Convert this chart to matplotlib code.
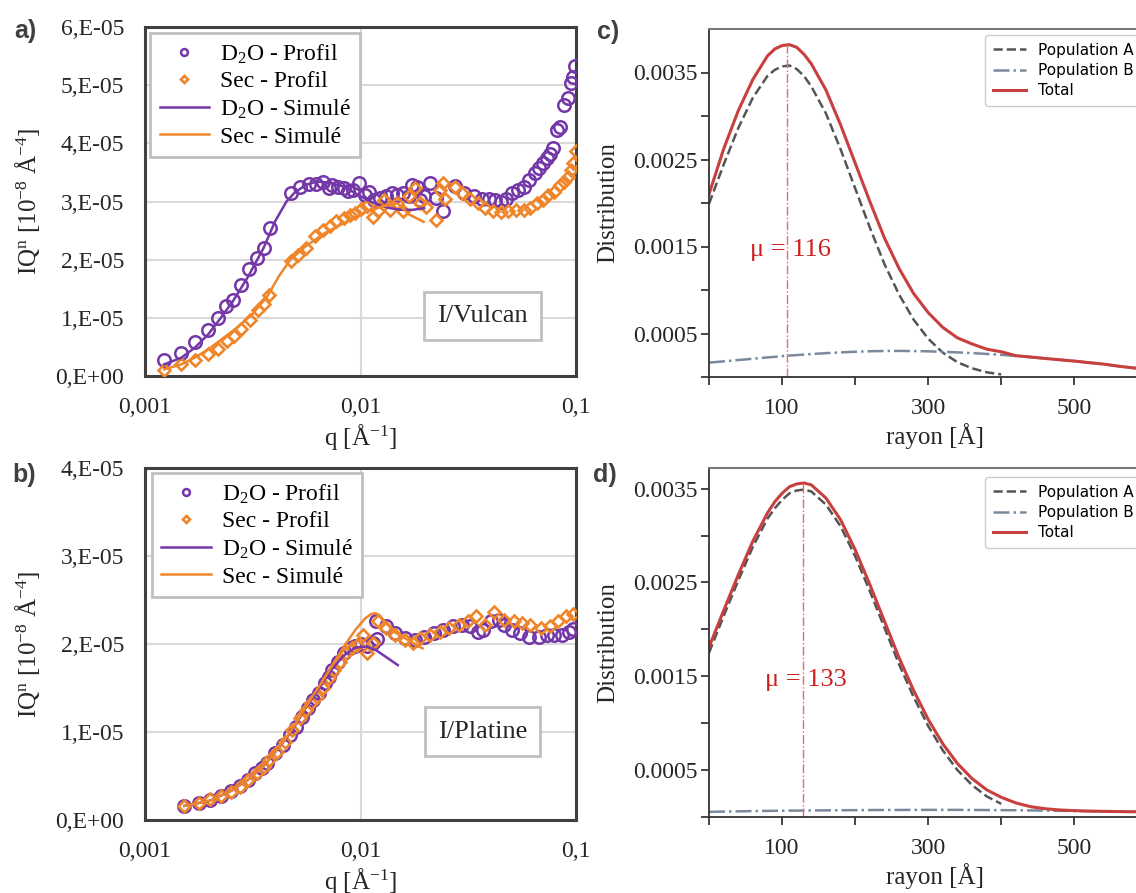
import numpy as np
import matplotlib
matplotlib.use("Agg")
import matplotlib.pyplot as plt
from matplotlib.ticker import NullLocator

plt.rcParams["font.family"] = ["Liberation Serif", "DejaVu Serif"]
plt.rcParams["mathtext.fontset"] = "custom"
plt.rcParams["mathtext.rm"] = "Liberation Serif"
plt.rcParams["mathtext.it"] = "Liberation Serif:italic"
plt.rcParams["mathtext.bf"] = "Liberation Serif:bold"

# ============================================
# 1. SAXS profiles, panel a (I/Vulcan), values in 1e-5 units
# ============================================
a_d2o_q = [0.001227, 0.001474, 0.001701, 0.001963, 0.002191, 0.002388, 0.002559, 0.002778,
           0.003040, 0.003298, 0.003549, 0.003804, 0.004763, 0.005233, 0.005747, 0.006237,
           0.006687, 0.007108, 0.007405, 0.007873, 0.008372, 0.008793, 0.009273, 0.009858,
           0.01048, 0.01092, 0.01161, 0.01234, 0.01312, 0.01395, 0.01484, 0.01577, 0.01677,
           0.01733, 0.01820, 0.01895, 0.01975, 0.02100, 0.02232, 0.02423, 0.02739, 0.03033,
           0.03360, 0.03645, 0.03956, 0.04206, 0.04471, 0.04753, 0.05053, 0.05374, 0.05714,
           0.06074, 0.06457, 0.06727, 0.07008, 0.07301, 0.07603, 0.07856, 0.08185, 0.08424,
           0.08775, 0.09142, 0.09522, 0.09718, 0.09918]
a_d2o_i = [0.269, 0.400, 0.589, 0.789, 1.000, 1.200, 1.314, 1.571, 1.840, 2.029, 2.200, 2.543,
           3.154, 3.246, 3.303, 3.303, 3.343, 3.229, 3.286, 3.257, 3.229, 3.189, 3.200, 3.314,
           3.114, 3.171, 3.029, 3.057, 3.097, 3.143, 3.114, 3.143, 3.086, 3.286, 3.257, 3.029,
           3.086, 3.326, 3.057, 2.829, 3.269, 3.154, 3.086, 3.040, 3.040, 3.029, 3.000, 3.040,
           3.154, 3.200, 3.257, 3.371, 3.486, 3.571, 3.657, 3.743, 3.817, 3.926, 4.229, 4.286,
           4.657, 4.771, 5.029, 5.143, 5.331]

a_sec_q = [0.001227, 0.001474, 0.001701, 0.001963, 0.002191, 0.002407, 0.002580, 0.002801,
           0.003076, 0.003339, 0.003549, 0.003773, 0.004763, 0.005127, 0.005563, 0.006163,
           0.006687, 0.007255, 0.007714, 0.008372, 0.008901, 0.009462, 0.01006, 0.01070,
           0.01137, 0.01209, 0.01286, 0.01367, 0.01484, 0.01577, 0.01677, 0.01783, 0.01895,
           0.02015, 0.02232, 0.02326, 0.02423, 0.02473, 0.02739, 0.02971, 0.03226, 0.03499,
           0.03797, 0.04120, 0.04471, 0.04851, 0.05264, 0.05714, 0.06138, 0.06592, 0.07008,
           0.07451, 0.07921, 0.08424, 0.08775, 0.09142, 0.09522, 0.09718, 0.1000]
a_sec_i = [0.103, 0.200, 0.269, 0.371, 0.457, 0.600, 0.686, 0.800, 0.971, 1.143, 1.246, 1.400,
           1.971, 2.086, 2.200, 2.400, 2.514, 2.571, 2.657, 2.714, 2.771, 2.800, 2.869, 2.926,
           2.731, 2.829, 3.029, 2.846, 2.971, 2.829, 3.086, 3.229, 2.971, 2.914, 2.686, 3.200,
           3.326, 3.040, 3.257, 3.143, 3.040, 2.971, 2.886, 2.829, 2.811, 2.829, 2.846, 2.846,
           2.886, 2.971, 3.029, 3.114, 3.171, 3.286, 3.343, 3.429, 3.543, 3.657, 3.869]

a_d2o_sim_q = [0.001227, 0.001474, 0.001701, 0.001963, 0.002218, 0.002559, 0.003015, 0.003549,
               0.004012, 0.004535, 0.004921, 0.005563, 0.006288, 0.007108, 0.008372, 0.009462,
               0.01070, 0.01209, 0.01367, 0.01545, 0.01747, 0.01975]
a_d2o_sim_i = [0.200, 0.314, 0.486, 0.714, 0.971, 1.286, 1.714, 2.200, 2.657, 3.000, 3.143,
               3.286, 3.343, 3.326, 3.257, 3.143, 3.029, 2.943, 2.886, 2.857, 2.857, 2.886]

a_sec_sim_q = [0.001227, 0.001474, 0.001701, 0.001963, 0.002264, 0.002667, 0.003141, 0.003698,
               0.004178, 0.004725, 0.005563, 0.006825, 0.008372, 0.01027, 0.01260, 0.01484,
               0.01677, 0.01963]
a_sec_sim_i = [0.114, 0.200, 0.314, 0.457, 0.629, 0.829, 1.057, 1.371, 1.714, 2.000, 2.229,
               2.457, 2.629, 2.800, 2.914, 2.971, 2.780, 2.650]

# ============================================
# 2. SAXS profiles, panel b (I/Platine), values in 1e-5 units
# ============================================
b_d2o_q = [0.001523, 0.001772, 0.002003, 0.002264, 0.002507, 0.002755, 0.002990, 0.003244,
           0.003477, 0.003698, 0.004012, 0.004354, 0.004725, 0.005023, 0.005340, 0.005677,
           0.006036, 0.006417, 0.006825, 0.007108, 0.007405, 0.007873, 0.008372, 0.008901,
           0.009462, 0.01006, 0.01070, 0.01137, 0.01199, 0.01185, 0.01312, 0.01453, 0.01609,
           0.01783, 0.01975, 0.02187, 0.02423, 0.02683, 0.02971, 0.03226, 0.03499, 0.03720,
           0.04037, 0.04380, 0.04657, 0.05053, 0.05484, 0.06074, 0.06727, 0.07301, 0.07921,
           0.08597, 0.09328, 0.09718]
b_d2o_i = [0.163, 0.190, 0.227, 0.273, 0.334, 0.387, 0.455, 0.531, 0.588, 0.652, 0.758, 0.853,
           0.967, 1.062, 1.175, 1.270, 1.365, 1.441, 1.555, 1.630, 1.706, 1.801, 1.896, 1.953,
           1.972, 2.002, 1.972, 2.009, 2.055, 2.256, 2.199, 2.123, 2.066, 2.047, 2.078, 2.123,
           2.161, 2.199, 2.218, 2.199, 2.142, 2.161, 2.256, 2.275, 2.218, 2.161, 2.123, 2.085,
           2.085, 2.104, 2.104, 2.104, 2.142, 2.169]

b_sec_q = [0.001523, 0.001772, 0.002003, 0.002264, 0.002507, 0.002755, 0.003015, 0.003298,
           0.003549, 0.003773, 0.004094, 0.004443, 0.004823, 0.005233, 0.005563, 0.005916,
           0.006288, 0.006687, 0.007108, 0.007556, 0.008035, 0.008544, 0.009085, 0.009659,
           0.01027, 0.01070, 0.01137, 0.01209, 0.01312, 0.01453, 0.01609, 0.01747, 0.01895,
           0.02100, 0.02326, 0.02575, 0.02852, 0.03159, 0.03428, 0.03797, 0.04154, 0.04657,
           0.05158, 0.05598, 0.06138, 0.06866, 0.07603, 0.08252, 0.08956, 0.09718]
b_sec_i = [0.163, 0.190, 0.235, 0.273, 0.322, 0.379, 0.455, 0.531, 0.607, 0.682, 0.777, 0.891,
           1.024, 1.156, 1.251, 1.327, 1.403, 1.498, 1.611, 1.706, 1.801, 1.896, 1.953, 1.991,
           2.104, 1.896, 2.009, 2.256, 2.180, 2.104, 2.047, 2.017, 2.066, 2.104, 2.142, 2.180,
           2.218, 2.256, 2.313, 2.218, 2.358, 2.275, 2.256, 2.237, 2.218, 2.180, 2.199, 2.256,
           2.313, 2.343]

b_d2o_sim_q = [0.001523, 0.002003, 0.002507, 0.003015, 0.003549, 0.004012, 0.004535, 0.005023,
               0.005563, 0.006036, 0.006687, 0.007405, 0.008372, 0.009462, 0.01070, 0.01180,
               0.01300, 0.01490]
b_d2o_sim_i = [0.16, 0.22, 0.33, 0.46, 0.61, 0.77, 0.93, 1.09, 1.27, 1.40, 1.56, 1.72, 1.87,
               1.96, 1.97, 1.93, 1.86, 1.76]

b_sec_sim_q = [0.001523, 0.002003, 0.002507, 0.003015, 0.003549, 0.004012, 0.004535, 0.005023,
               0.005563, 0.006036, 0.006687, 0.007405, 0.008372, 0.009462, 0.01050, 0.01120,
               0.01170, 0.01220, 0.01300, 0.01450, 0.01650, 0.01940]
b_sec_sim_i = [0.16, 0.22, 0.33, 0.46, 0.61, 0.77, 0.94, 1.10, 1.28, 1.42, 1.58, 1.76, 1.97,
               2.16, 2.29, 2.34, 2.35, 2.33, 2.25, 2.13, 2.05, 1.95]

# ============================================
# 3. Size distributions, panels c and d
# ============================================
rayon_A = [0, 20, 40, 60, 80, 90, 100, 110, 120, 130, 140, 160, 180, 200, 220, 240, 260,
           280, 300, 320, 340, 360, 380, 400]
rayon = rayon_A + [420, 440, 460, 480, 500, 520, 540, 560, 580, 600, 620, 640]

c_popA = [0.00199, 0.00244, 0.00286, 0.00321, 0.00346, 0.00353, 0.00357, 0.00358, 0.00354,
          0.00346, 0.00334, 0.00303, 0.00262, 0.00217, 0.00172, 0.00130, 0.00095, 0.00066,
          0.00044, 0.00028, 0.00017, 0.00010, 0.000054, 0.00003]
c_popB = [0.000165, 0.00018, 0.000195, 0.00021, 0.000225, 0.000232, 0.00024, 0.000246,
          0.000252, 0.000258, 0.000264, 0.000274, 0.000283, 0.00029, 0.000296, 0.000299,
          0.0003, 0.000298, 0.000295, 0.00029, 0.000283, 0.000275, 0.000265, 0.000255,
          0.000242, 0.000228, 0.000213, 0.000198, 0.000183, 0.000165, 0.000148, 0.000125,
          0.000105, 0.00009, 0.000078, 0.000068]
c_total = [0.00210, 0.00262, 0.00306, 0.00342, 0.00369, 0.00377, 0.00381, 0.00382, 0.00379,
           0.00371, 0.00360, 0.00330, 0.00290, 0.00246, 0.00202, 0.00160, 0.00125, 0.00096,
           0.00074, 0.00057, 0.00045, 0.00038, 0.00032, 0.00029, 0.000245, 0.00023, 0.000213,
           0.000198, 0.000183, 0.000165, 0.000148, 0.000125, 0.000105, 0.00009, 0.000078,
           0.000068]
c_mu = 116
c_peak = (107, 0.00382)

d_popA = [0.00175, 0.00214, 0.00252, 0.00288, 0.00318, 0.00329, 0.00338, 0.00345, 0.00348,
          0.00349, 0.00347, 0.00333, 0.00310, 0.00278, 0.00241, 0.00202, 0.00163, 0.00128,
          0.00097, 0.00071, 0.00050, 0.00034, 0.00022, 0.00014]
d_popB = [0.000055, 0.000058, 0.00006, 0.000063, 0.000065, 0.000066, 0.000067, 0.000068,
          0.000068, 0.000069, 0.00007, 0.000071, 0.000072, 0.000073, 0.000074, 0.000075,
          0.000075, 0.000076, 0.000076, 0.000076, 0.000076, 0.000075, 0.000074, 0.000073,
          0.000072, 0.00007, 0.000068, 0.000066, 0.000064, 0.000062, 0.00006, 0.000058,
          0.000056, 0.000054, 0.000052, 0.00005]
d_total = [0.00181, 0.00220, 0.00258, 0.00294, 0.00324, 0.00336, 0.00345, 0.00352, 0.00355,
           0.00356, 0.00354, 0.00340, 0.00317, 0.00285, 0.00248, 0.00209, 0.00170, 0.00135,
           0.00104, 0.00078, 0.00057, 0.00041, 0.00029, 0.00021, 0.00015, 0.00011, 0.000088,
           0.000075, 0.000068, 0.000063, 0.00006, 0.000058, 0.000056, 0.000054, 0.000052,
           0.00005]
d_mu = 133
d_peak = (128, 0.00356)

PURPLE = "#7437A8"
ORANGE = "#F0862A"
UNIT = 1e-5

W, H = 1136, 893
fig = plt.figure(figsize=(W / 100, H / 100), dpi=100)


def box(x0, y0, x1, y1):
    # pixel box -> figure fraction
    return [x0 / W, 1 - y1 / H, (x1 - x0) / W, (y1 - y0) / H]


def saxs_panel(rect, d2o, sec, d2o_sim, sec_sim, ymax, sample, leg_anchor, text_xy):
    ax = fig.add_axes(rect)
    ax.plot(d2o[0], np.array(d2o[1]) * UNIT, "o", ms=9, mfc="none", mec=PURPLE, mew=1.8,
            label="D$_2$O - Profil", zorder=3)
    ax.plot(sec[0], np.array(sec[1]) * UNIT, "D", ms=6.5, mfc="none", mec=ORANGE, mew=1.9,
            label="Sec - Profil", zorder=3)
    ax.plot(d2o_sim[0], np.array(d2o_sim[1]) * UNIT, "-", color=PURPLE, lw=1.8,
            label="D$_2$O - Simulé", zorder=4)
    ax.plot(sec_sim[0], np.array(sec_sim[1]) * UNIT, "-", color=ORANGE, lw=1.8,
            label="Sec - Simulé", zorder=4)

    ax.set_xscale("log")
    ax.set_xlim(0.001, 0.1)
    ax.set_ylim(0, ymax * UNIT)
    ax.set_xticks([0.001, 0.01, 0.1])
    ax.set_xticklabels(["0,001", "0,01", "0,1"])
    ax.xaxis.set_minor_locator(NullLocator())
    yt = list(range(ymax + 1))
    ax.set_yticks([v * UNIT for v in yt])
    ax.set_yticklabels(["0,E+00"] + ["%d,E-05" % v for v in yt[1:]])
    ax.tick_params(length=0, labelsize=17, pad=15, colors="#262626")
    ax.grid(True, color="#d9d9d9", lw=1.5)
    ax.set_axisbelow(True)
    for s in ax.spines.values():
        s.set_color("#404040")
        s.set_linewidth(2.2)

    ax.set_xlabel("q [Å$^{-1}$]", fontsize=18, labelpad=3, color="#262626")
    ax.set_ylabel("IQ$^{\\mathrm{n}}$ [10$^{-8}$ Å$^{-4}$]", fontsize=18, labelpad=10,
                  color="#262626")

    leg = ax.legend(loc="upper left", bbox_to_anchor=leg_anchor, borderaxespad=0,
                    fontsize=17, markerscale=0.55, handlelength=2.1, handletextpad=0.45,
                    labelspacing=0.22, fancybox=False, framealpha=1, borderpad=0.4)
    leg.get_frame().set_edgecolor("#c0c0c0")
    leg.get_frame().set_linewidth(2)

    ax.text(text_xy[0], text_xy[1], sample, transform=ax.transAxes, fontsize=19,
            ha="center", va="center", color="#262626",
            bbox=dict(boxstyle="square,pad=0.5", fc="white", ec="#c0c0c0", lw=2))
    return ax


def dist_panel(rect, popA, popB, total, mu, peak, leg_anchor):
    ax = fig.add_axes(rect)
    ax.plot(rayon_A, popA, "--", color="#555555", lw=1.8, label="Population A")
    ax.plot(rayon, popB, "-.", color="#7a8a9c", lw=1.8, label="Population B")
    ax.plot(rayon, total, "-", color="#c8403e", lw=2.2, label="Total")
    ax.plot([peak[0], peak[0]], [0, peak[1]], "-.", color="#e46a78", lw=1)
    ax.text(peak[0] + 5, 0.00146, "μ = %d" % mu, color="#cc1f1f", fontsize=19,
            ha="center", va="center")

    ax.set_xlim(0, 620)
    ax.set_ylim(0, 0.004 if peak[1] > 0.0037 else 0.00372)
    ax.set_xticks(list(range(0, 700, 100)))
    ax.set_xticklabels(["", "100", "", "300", "", "500", ""])
    ax.set_yticks([0, 0.0005, 0.001, 0.0015, 0.002, 0.0025, 0.003, 0.0035])
    ax.set_yticklabels(["", "0.0005", "", "0.0015", "", "0.0025", "", "0.0035"])
    ax.tick_params(direction="out", length=6, width=1.2, labelsize=17, pad=2,
                   colors="#262626")
    ax.tick_params(axis="x", pad=9)
    for side in ["left", "bottom"]:
        ax.spines[side].set_color("#333333")
        ax.spines[side].set_linewidth(1.3)
    ax.spines["top"].set_color("#777777")
    ax.spines["top"].set_linewidth(1.5)

    ax.set_xlabel("rayon [Å]", fontsize=18, labelpad=3, color="#262626")
    ax.set_ylabel("Distribution", fontsize=18, labelpad=10, color="#262626")

    leg = ax.legend(loc="upper left", bbox_to_anchor=leg_anchor, borderaxespad=0,
                    prop={"family": "DejaVu Sans", "size": 11}, labelspacing=0.35,
                    handlelength=2.2, borderpad=0.5, framealpha=1)
    leg.get_frame().set_edgecolor("#cccccc")
    return ax


ax_a = saxs_panel(box(145, 27, 576, 376),
                  (a_d2o_q, a_d2o_i), (a_sec_q, a_sec_i),
                  (a_d2o_sim_q, a_d2o_sim_i), (a_sec_sim_q, a_sec_sim_i),
                  6, "I/Vulcan", (0.012, 0.983), (0.784, 0.172))
ax_b = saxs_panel(box(145, 468, 576, 820),
                  (b_d2o_q, b_d2o_i), (b_sec_q, b_sec_i),
                  (b_d2o_sim_q, b_d2o_sim_i), (b_sec_sim_q, b_sec_sim_i),
                  4, "I/Platine", (0.016, 0.986), (0.783, 0.251))
ax_c = dist_panel(box(709, 29, 1162, 377), c_popA, c_popB, c_total, c_mu, c_peak,
                  ((985 - 709) / 453, 1 - 6 / 348))
ax_d = dist_panel(box(709, 468, 1162, 817), d_popA, d_popB, d_total, d_mu, d_peak,
                  ((985 - 709) / 453, 1 - 9 / 349))

for lab, x, y in [("a)", 25, 31), ("b)", 24, 475), ("c)", 608, 32), ("d)", 605, 475)]:
    fig.text(x / W, 1 - y / H, lab, fontsize=18, fontweight="bold", family="Liberation Sans",
             color="#404040", ha="center", va="center")

fig.savefig("out.png", dpi=100)
